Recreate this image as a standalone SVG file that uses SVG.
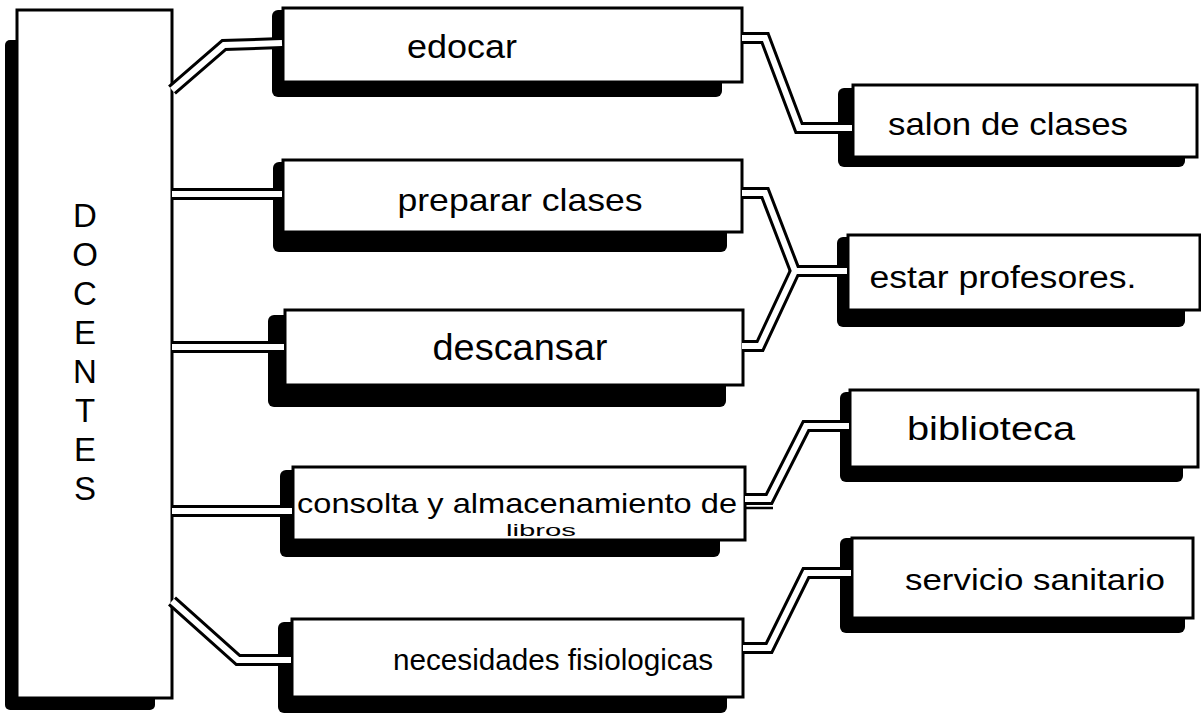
<svg xmlns="http://www.w3.org/2000/svg" width="1201" height="714" viewBox="0 0 1201 714">
<style>
.bg{fill:#fff}
.sh{fill:#000}
.bx{fill:#fff;stroke:#000;stroke-width:3}
.t{font-family:"Liberation Sans","DejaVu Sans",sans-serif;fill:#000;text-anchor:middle}
.ck{fill:none;stroke:#000;stroke-width:12;stroke-linejoin:miter}
.cw{fill:none;stroke:#fff;stroke-width:6;stroke-linejoin:miter}
</style>
<rect class="bg" x="0" y="0" width="1201" height="714"/>

<g id="docentes">
<rect class="sh" x="5" y="40" width="150" height="670" rx="5"/>
<rect class="bx" x="17" y="10" width="155" height="688"/>
<g class="t" font-size="33">
<text x="85" y="227">D</text>
<text x="85" y="266">O</text>
<text x="85" y="305">C</text>
<text x="85" y="344">E</text>
<text x="85" y="383">N</text>
<text x="85" y="422">T</text>
<text x="85" y="461">E</text>
<text x="85" y="500">S</text>
</g>
</g>

<g id="edocar">
<rect class="sh" x="272" y="10" width="450" height="87" rx="6"/>
<rect class="bx" x="283" y="8" width="459" height="74"/>
<text class="t" x="462" y="58" font-size="34" textLength="110" lengthAdjust="spacingAndGlyphs">edocar</text>
</g>

<g id="preparar">
<rect class="sh" x="273" y="162" width="454" height="90" rx="6"/>
<rect class="bx" x="283" y="160" width="459" height="72"/>
<text class="t" x="520" y="211" font-size="32" textLength="245" lengthAdjust="spacingAndGlyphs">preparar clases</text>
</g>

<g id="descansar">
<rect class="sh" x="268" y="315" width="458" height="92" rx="6"/>
<rect class="bx" x="285" y="310" width="458" height="75"/>
<text class="t" x="520" y="360" font-size="36" textLength="175" lengthAdjust="spacingAndGlyphs">descansar</text>
</g>

<g id="consolta">
<rect class="sh" x="280" y="470" width="440" height="87" rx="6"/>
<rect class="bx" x="293" y="467" width="452" height="73"/>
<text class="t" x="517" y="513" font-size="28" textLength="440" lengthAdjust="spacingAndGlyphs">consolta y almacenamiento de</text>
<text class="t" x="541" y="536" font-size="16" textLength="70" lengthAdjust="spacingAndGlyphs">libros</text>
</g>

<g id="necesidades">
<rect class="sh" x="278" y="622" width="449" height="91" rx="6"/>
<rect class="bx" x="292" y="619" width="451" height="78"/>
<text class="t" x="553" y="670" font-size="29" textLength="320" lengthAdjust="spacingAndGlyphs">necesidades fisiologicas</text>
</g>

<g id="salon">
<rect class="sh" x="838" y="88" width="347" height="79" rx="6"/>
<rect class="bx" x="853" y="85" width="344" height="72"/>
<text class="t" x="1008" y="135" font-size="32" textLength="240" lengthAdjust="spacingAndGlyphs">salon de clases</text>
</g>

<g id="estar">
<rect class="sh" x="837" y="237" width="348" height="90" rx="6"/>
<rect class="bx" x="848" y="235" width="352" height="75"/>
<text class="t" x="1003" y="288" font-size="31" textLength="267" lengthAdjust="spacingAndGlyphs">estar profesores.</text>
</g>

<g id="biblioteca">
<rect class="sh" x="840" y="392" width="343" height="90" rx="6"/>
<rect class="bx" x="850" y="390" width="348" height="77"/>
<text class="t" x="991" y="440" font-size="34" textLength="168" lengthAdjust="spacingAndGlyphs">biblioteca</text>
</g>

<g id="servicio">
<rect class="sh" x="840" y="538" width="345" height="95" rx="6"/>
<rect class="bx" x="852" y="538" width="341" height="80"/>
<text class="t" x="1035" y="590" font-size="29" textLength="260" lengthAdjust="spacingAndGlyphs">servicio sanitario</text>
</g>

<g id="connectors">
<g class="ck">
<path d="M172 90 L224 45 L282 43"/>
<path d="M172 194 L282 194"/>
<path d="M172 347 L284 347"/>
<path d="M172 511 L292 511"/>
<path d="M172 601 L238 660 L291 660"/>
<path d="M742 38 L765 38 L799 128 L852 128"/>
<path d="M742 193 L765 193 L795 271 L847 271"/>
<path d="M742 346 L760 346 L795 271"/>
<path d="M745 499 L769 499 L806 426 L849 426"/>
<path d="M743 648 L769 648 L806 573 L851 573"/>
</g>
<g class="cw">
<path d="M172 90 L224 45 L282 43"/>
<path d="M172 194 L282 194"/>
<path d="M172 347 L284 347"/>
<path d="M172 511 L292 511"/>
<path d="M172 601 L238 660 L291 660"/>
<path d="M742 38 L765 38 L799 128 L852 128"/>
<path d="M742 193 L765 193 L795 271 L847 271"/>
<path d="M742 346 L760 346 L795 271"/>
<path d="M745 499 L769 499 L806 426 L849 426"/>
<path d="M743 648 L769 648 L806 573 L851 573"/>
</g>
<path d="M746 508 L773 508" stroke="#000" stroke-width="2.5" fill="none"/>
</g>
</svg>
